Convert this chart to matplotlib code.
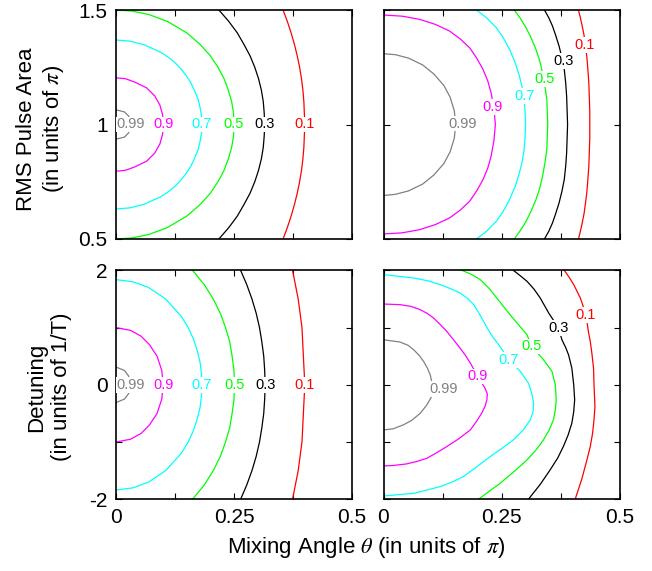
import numpy as np
import matplotlib
matplotlib.use("Agg")
import matplotlib.pyplot as plt

plt.rcParams['font.family'] = ['Liberation Sans', 'DejaVu Sans']
plt.rcParams['mathtext.fontset'] = 'stix'

# contour levels (fidelity), same order in every panel
levels = ['0.99', '0.9', '0.7', '0.5', '0.3', '0.1']
level_colors = ['#808080', '#ff00ff', '#00ffff', '#00ff00', '#000000', '#ff0000']

# tick values / labels
theta_ticks = [0, 0.25, 0.5]
theta_ticklabels = ['0', '0.25', '0.5']
area_ticks = [0.5, 1.0, 1.5]
area_ticklabels = ['0.5', '1', '1.5']
detuning_ticks = [-2, 0, 2]
detuning_ticklabels = ['-2', '0', '2']

# --- top left: pulse area vs mixing angle, contour paths (theta, area) ---
tl_099 = [(0.000, 1.064), (0.018, 1.055), (0.027, 1.036), (0.032, 1.000),
          (0.027, 0.964), (0.018, 0.945), (0.000, 0.936)]
tl_09 = [(0.000, 1.204), (0.020, 1.200), (0.040, 1.185), (0.065, 1.160),
         (0.082, 1.125), (0.093, 1.085), (0.099, 1.040), (0.100, 1.000),
         (0.099, 0.960), (0.093, 0.915), (0.082, 0.875), (0.065, 0.840),
         (0.040, 0.815), (0.020, 0.800), (0.000, 0.796)]
tl_07 = [(0.000, 1.369), (0.030, 1.364), (0.060, 1.348), (0.095, 1.315),
         (0.110, 1.295), (0.125, 1.270), (0.138, 1.242), (0.150, 1.210),
         (0.159, 1.180), (0.167, 1.145), (0.174, 1.110), (0.178, 1.075),
         (0.181, 1.040), (0.182, 1.000), (0.181, 0.960), (0.178, 0.925),
         (0.174, 0.890), (0.167, 0.855), (0.159, 0.820), (0.150, 0.790),
         (0.138, 0.758), (0.125, 0.730), (0.110, 0.705), (0.095, 0.685),
         (0.060, 0.652), (0.030, 0.636), (0.000, 0.631)]
tl_05 = [(0.000, 1.500), (0.035, 1.495), (0.070, 1.480), (0.109, 1.450),
         (0.150, 1.400), (0.178, 1.350), (0.200, 1.300), (0.216, 1.250),
         (0.229, 1.200), (0.238, 1.150), (0.245, 1.100), (0.249, 1.050),
         (0.250, 1.000), (0.249, 0.950), (0.245, 0.900), (0.238, 0.850),
         (0.229, 0.800), (0.216, 0.750), (0.200, 0.700), (0.178, 0.650),
         (0.150, 0.600), (0.109, 0.550), (0.070, 0.520), (0.035, 0.505),
         (0.000, 0.500)]
tl_03 = [(0.218, 1.50), (0.239, 1.45), (0.257, 1.40), (0.271, 1.35),
         (0.284, 1.30), (0.294, 1.25), (0.302, 1.20), (0.308, 1.15),
         (0.312, 1.10), (0.314, 1.05), (0.315, 1.00), (0.314, 0.95),
         (0.312, 0.90), (0.308, 0.85), (0.302, 0.80), (0.294, 0.75),
         (0.284, 0.70), (0.271, 0.65), (0.257, 0.60), (0.239, 0.55),
         (0.218, 0.50)]
tl_01 = [(0.354, 1.50), (0.363, 1.45), (0.371, 1.40), (0.378, 1.35),
         (0.384, 1.30), (0.389, 1.25), (0.393, 1.20), (0.396, 1.15),
         (0.398, 1.10), (0.400, 1.00), (0.398, 0.90), (0.396, 0.85),
         (0.393, 0.80), (0.389, 0.75), (0.384, 0.70), (0.378, 0.65),
         (0.371, 0.60), (0.363, 0.55), (0.354, 0.50)]

# --- top right ---
tr_099 = [(0.000, 1.309), (0.025, 1.305), (0.053, 1.290), (0.083, 1.260),
          (0.107, 1.220), (0.128, 1.170), (0.141, 1.120), (0.150, 1.060),
          (0.153, 1.000), (0.150, 0.940), (0.141, 0.880), (0.128, 0.830),
          (0.107, 0.780), (0.083, 0.740), (0.053, 0.710), (0.025, 0.695),
          (0.000, 0.690)]
tr_09 = [(0.000, 1.478), (0.040, 1.473), (0.077, 1.459), (0.110, 1.437),
         (0.140, 1.408), (0.163, 1.373), (0.183, 1.334), (0.198, 1.288),
         (0.211, 1.240), (0.221, 1.190), (0.228, 1.138), (0.234, 1.070),
         (0.237, 1.000), (0.234, 0.930), (0.228, 0.862), (0.221, 0.810),
         (0.211, 0.760), (0.198, 0.712), (0.183, 0.666), (0.163, 0.627),
         (0.140, 0.592), (0.110, 0.563), (0.077, 0.541), (0.040, 0.527),
         (0.000, 0.522)]
tr_07 = [(0.197, 1.500), (0.219, 1.465), (0.239, 1.423), (0.254, 1.378),
         (0.267, 1.328), (0.279, 1.270), (0.288, 1.211), (0.294, 1.160),
         (0.298, 1.109), (0.300, 1.055), (0.301, 1.000), (0.300, 0.945),
         (0.298, 0.891), (0.294, 0.840), (0.288, 0.789), (0.279, 0.730),
         (0.267, 0.672), (0.254, 0.622), (0.239, 0.577), (0.219, 0.535),
         (0.197, 0.500)]
tr_05 = [(0.277, 1.500), (0.290, 1.463), (0.302, 1.423), (0.313, 1.377),
         (0.323, 1.328), (0.331, 1.278), (0.337, 1.226), (0.342, 1.168),
         (0.346, 1.109), (0.347, 1.055), (0.348, 1.000), (0.347, 0.945),
         (0.346, 0.891), (0.342, 0.832), (0.337, 0.774), (0.331, 0.722),
         (0.323, 0.672), (0.313, 0.623), (0.302, 0.577), (0.290, 0.537),
         (0.277, 0.500)]
tr_03 = [(0.341, 1.500), (0.350, 1.467), (0.358, 1.430), (0.365, 1.388),
         (0.372, 1.342), (0.378, 1.292), (0.383, 1.240), (0.386, 1.182),
         (0.388, 1.123), (0.389, 1.062), (0.390, 1.000), (0.389, 0.938),
         (0.388, 0.877), (0.386, 0.818), (0.383, 0.760), (0.378, 0.708),
         (0.372, 0.658), (0.365, 0.612), (0.358, 0.570), (0.350, 0.533),
         (0.341, 0.500)]
tr_01 = [(0.413, 1.500), (0.417, 1.467), (0.421, 1.430), (0.425, 1.388),
         (0.428, 1.342), (0.431, 1.292), (0.433, 1.240), (0.435, 1.182),
         (0.436, 1.123), (0.437, 1.062), (0.437, 1.000), (0.437, 0.938),
         (0.436, 0.877), (0.435, 0.818), (0.433, 0.760), (0.431, 0.708),
         (0.428, 0.658), (0.425, 0.612), (0.421, 0.570), (0.417, 0.533),
         (0.413, 0.500)]

# --- bottom left: detuning vs mixing angle, paths (theta, detuning) ---
bl_099 = [(0.000, 0.31), (0.018, 0.25), (0.027, 0.15), (0.031, 0.00),
          (0.027, -0.15), (0.018, -0.25), (0.000, -0.31)]
bl_09 = [(0.000, 1.00), (0.031, 0.95), (0.053, 0.85), (0.071, 0.70),
         (0.087, 0.50), (0.097, 0.25), (0.100, 0.00), (0.097, -0.25),
         (0.087, -0.50), (0.071, -0.70), (0.053, -0.85), (0.031, -0.95),
         (0.000, -1.00)]
bl_07 = [(0.000, 1.837), (0.036, 1.80), (0.069, 1.70), (0.105, 1.50),
         (0.138, 1.20), (0.153, 1.00), (0.164, 0.80), (0.172, 0.60),
         (0.178, 0.40), (0.181, 0.20), (0.182, 0.00), (0.181, -0.20),
         (0.178, -0.40), (0.172, -0.60), (0.164, -0.80), (0.153, -1.00),
         (0.138, -1.20), (0.105, -1.50), (0.069, -1.70), (0.036, -1.80),
         (0.000, -1.837)]
bl_05 = [(0.162, 2.0), (0.187, 1.75), (0.206, 1.5), (0.221, 1.25), (0.232, 1.0),
         (0.241, 0.75), (0.246, 0.5), (0.250, 0.25), (0.251, 0.0),
         (0.250, -0.25), (0.246, -0.5), (0.241, -0.75), (0.232, -1.0),
         (0.221, -1.25), (0.206, -1.5), (0.187, -1.75), (0.162, -2.0)]
bl_03 = [(0.264, 2.0), (0.277, 1.75), (0.288, 1.5), (0.297, 1.25), (0.304, 1.0),
         (0.309, 0.75), (0.313, 0.5), (0.315, 0.25), (0.316, 0.0),
         (0.315, -0.25), (0.313, -0.5), (0.309, -0.75), (0.304, -1.0),
         (0.297, -1.25), (0.288, -1.5), (0.277, -1.75), (0.264, -2.0)]
bl_01 = [(0.374, 2.0), (0.380, 1.75), (0.386, 1.5), (0.390, 1.25), (0.394, 1.0),
         (0.397, 0.5), (0.400, 0.0), (0.397, -0.5), (0.394, -1.0),
         (0.390, -1.25), (0.386, -1.5), (0.380, -1.75), (0.374, -2.0)]

# --- bottom right ---
br_099 = [(0.000, 0.787), (0.035, 0.747), (0.052, 0.690), (0.064, 0.612),
          (0.076, 0.510), (0.085, 0.408), (0.093, 0.290), (0.099, 0.175),
          (0.104, -0.020), (0.102, -0.204), (0.092, -0.350), (0.078, -0.496),
          (0.060, -0.620), (0.042, -0.700), (0.020, -0.770), (0.000, -0.787)]
br_09 = [(0.000, 1.411), (0.035, 1.400), (0.058, 1.370), (0.078, 1.312),
         (0.093, 1.245), (0.106, 1.167), (0.120, 1.055), (0.134, 0.933),
         (0.148, 0.790), (0.162, 0.642), (0.174, 0.510), (0.184, 0.379),
         (0.200, 0.146), (0.215, -0.058), (0.220, -0.160), (0.219, -0.262),
         (0.215, -0.380), (0.208, -0.496), (0.197, -0.640), (0.184, -0.787),
         (0.160, -0.940), (0.134, -1.079), (0.112, -1.190), (0.092, -1.283),
         (0.070, -1.340), (0.049, -1.382), (0.020, -1.410), (0.000, -1.417)]
br_07 = [(0.000, 1.925), (0.064, 1.866), (0.095, 1.815), (0.120, 1.750),
         (0.142, 1.680), (0.162, 1.604), (0.178, 1.510), (0.191, 1.400),
         (0.202, 1.255), (0.212, 1.108), (0.222, 0.960), (0.233, 0.817),
         (0.244, 0.700), (0.254, 0.583), (0.265, 0.437), (0.290, 0.233),
         (0.307, 0.029), (0.314, -0.146), (0.318, -0.321), (0.317, -0.470),
         (0.311, -0.612), (0.296, -0.790), (0.275, -0.962), (0.251, -1.110),
         (0.226, -1.254), (0.198, -1.430), (0.169, -1.604), (0.145, -1.700),
         (0.120, -1.779), (0.064, -1.896), (0.000, -1.942)]
br_05 = [(0.166, 2.000), (0.186, 1.930), (0.205, 1.837), (0.223, 1.690),
         (0.240, 1.517), (0.254, 1.370), (0.268, 1.225), (0.286, 1.050),
         (0.304, 0.875), (0.314, 0.671), (0.339, 0.437), (0.357, 0.233),
         (0.364, 0.000), (0.366, -0.262), (0.364, -0.440), (0.360, -0.612),
         (0.351, -0.790), (0.339, -0.962), (0.323, -1.140), (0.304, -1.312),
         (0.276, -1.520), (0.247, -1.721), (0.224, -1.860), (0.201, -2.000)]
br_03 = [(0.275, 2.000), (0.289, 1.910), (0.304, 1.808), (0.319, 1.670),
         (0.332, 1.517), (0.350, 1.254), (0.371, 0.990), (0.378, 0.787),
         (0.386, 0.650), (0.392, 0.525), (0.399, 0.292), (0.403, 0.000),
         (0.405, -0.262), (0.403, -0.470), (0.399, -0.671), (0.391, -0.880),
         (0.381, -1.079), (0.369, -1.280), (0.353, -1.487), (0.332, -1.740),
         (0.307, -2.000)]
br_01 = [(0.383, 2.000), (0.394, 1.870), (0.403, 1.750), (0.417, 1.517),
         (0.429, 1.225), (0.434, 0.933), (0.438, 0.760), (0.441, 0.583),
         (0.445, 0.292), (0.446, 0.000), (0.447, -0.190), (0.448, -0.379),
         (0.446, -0.610), (0.443, -0.846), (0.438, -1.080), (0.431, -1.312),
         (0.420, -1.650), (0.406, -2.000)]

fig = plt.figure(figsize=(6.52, 5.71), dpi=100)
w, h = 236 / 652, 229 / 571
ax_tl = fig.add_axes([116 / 652, 1 - 239 / 571, w, h])
ax_tr = fig.add_axes([383.5 / 652, 1 - 239 / 571, w, h])
ax_bl = fig.add_axes([116 / 652, 1 - 499.3 / 571, w, h])
ax_br = fig.add_axes([383.5 / 652, 1 - 499.3 / 571, w, h])

# where the inline labels sit on the right-hand panels
tr_label_at = [(0.167, 1.004), (0.232, 1.075), (0.298, 1.123),
               (0.342, 1.199), (0.381, 1.277), (0.425, 1.347)]
br_label_at = [(0.127, -0.076), (0.200, 0.146), (0.265, 0.437),
               (0.314, 0.671), (0.371, 0.990), (0.429, 1.225)]

panels = [
    (ax_tl, [tl_099, tl_09, tl_07, tl_05, tl_03, tl_01], None, (0.5, 1.5)),
    (ax_tr, [tr_099, tr_09, tr_07, tr_05, tr_03, tr_01], tr_label_at, (0.5, 1.5)),
    (ax_bl, [bl_099, bl_09, bl_07, bl_05, bl_03, bl_01], None, (-2, 2)),
    (ax_br, [br_099, br_09, br_07, br_05, br_03, br_01], br_label_at, (-2, 2)),
]

for ax, curves, label_at, ylim in panels:
    for i, (curve, lab, col) in enumerate(zip(curves, levels, level_colors)):
        pts = np.array(curve)
        ax.plot(pts[:, 0], pts[:, 1], color=col, lw=0.9,
                solid_joinstyle='round')
        if label_at is None:
            # label at the far right of the contour
            pos = pts[np.argmax(pts[:, 0])]
        else:
            pos = label_at[i]
        ax.text(pos[0], pos[1], lab, color=col, fontsize=10.5,
                ha='center', va='center',
                bbox=dict(fc='white', ec='none', pad=0.6))
    ax.set_xlim(0, 0.5)
    ax.set_ylim(*ylim)
    ax.set_xticks(theta_ticks)
    ax.set_xticks([0.125, 0.375], minor=True)
    for s in ax.spines.values():
        s.set_linewidth(1.2)
    ax.tick_params(which='both', direction='in', top=True, right=True,
                   length=4, width=0.8, labelsize=15, pad=6)

for ax in (ax_tl, ax_tr):
    ax.set_yticks(area_ticks)
    ax.set_xticklabels([])
for ax in (ax_bl, ax_br):
    ax.set_yticks(detuning_ticks)
    ax.set_yticks([-1, 1], minor=True)
    ax.set_xticklabels(theta_ticklabels)
ax_tl.set_yticklabels(area_ticklabels)
ax_bl.set_yticklabels(detuning_ticklabels)
ax_tr.set_yticklabels([])
ax_br.set_yticklabels([])

fig.text(41 / 652, 1 - 129 / 571, 'RMS Pulse Area\n(in units of $\\pi$)',
         rotation=90, ha='center', va='center', fontsize=16,
         multialignment='center')
fig.text(49 / 652, 1 - 387 / 571, 'Detuning\n(in units of 1/T)',
         rotation=90, ha='center', va='center', fontsize=16,
         multialignment='center')
fig.text(366 / 652, 1 - 547 / 571, 'Mixing Angle $\\theta$ (in units of $\\pi$)',
         ha='center', va='center', fontsize=16)

fig.savefig('out.png', dpi=100)
